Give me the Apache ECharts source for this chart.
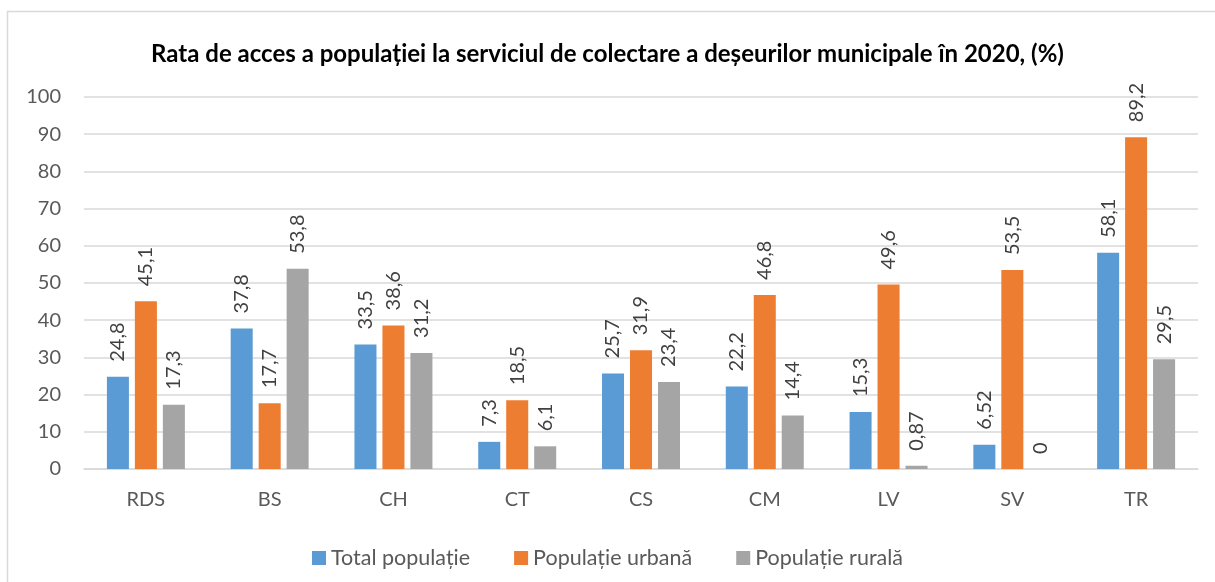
<!DOCTYPE html>
<html>
<head>
<meta charset="utf-8">
<script src="https://cdn.jsdelivr.net/npm/echarts@6/dist/echarts.min.js"></script>
<style>
  html, body { margin: 0; padding: 0; background: #fff; }
  #container { width: 1215px; height: 582px; }
</style>
</head>
<body>
<div id="container"></div>
<script>
var categories = ['RDS', 'BS', 'CH', 'CT', 'CS', 'CM', 'LV', 'SV', 'TR'];
var totalPop = [24.8, 37.8, 33.5, 7.3, 25.7, 22.2, 15.3, 6.52, 58.1];
var urbanPop = [45.1, 17.7, 38.6, 18.5, 31.9, 46.8, 49.6, 53.5, 89.2];
var ruralPop = [17.3, 53.8, 31.2, 6.1, 23.4, 14.4, 0.87, 0, 29.5];
var seriesNames = ['Total populație', 'Populație urbană', 'Populație rurală'];
var colors = ['#5B9BD5', '#ED7D31', '#A5A5A5'];

var dom = document.getElementById('container');
var myChart = echarts.init(dom, null, { renderer: 'canvas' });
var fontFam = 'Lato, "Open Sans", sans-serif';

function makeSeries(name, data, color) {
  return {
    name: name,
    type: 'bar',
    data: data,
    itemStyle: { color: color },
    barGap: '27%',
    barCategoryGap: '37%',
    label: {
      show: true,
      position: 'top',
      rotate: 90,
      align: 'left',
      verticalAlign: 'middle',
      distance: 15,
      fontFamily: fontFam,
      fontSize: 20,
      color: '#404040',
      formatter: function (p) { return String(p.value).replace('.', ','); }
    }
  };
}

var option = {
  animation: false,
  color: colors,
  title: {
    text: 'Rata de acces a populației la serviciul de colectare a deșeurilor municipale în 2020, (%)',
    left: 'center',
    top: 37,
    textStyle: { fontFamily: fontFam, fontWeight: 'bold', fontSize: 24, color: '#000' }
  },
  graphic: [{
    type: 'rect',
    shape: { x: 7.5, y: 11.5, width: 1220, height: 580 },
    style: { fill: 'none', stroke: '#d9d9d9', lineWidth: 1.5 },
    silent: true
  }],
  legend: {
    top: 542,
    left: 'center',
    itemWidth: 14,
    itemHeight: 14,
    itemGap: 44,
    icon: 'rect',
    textStyle: { fontFamily: fontFam, fontSize: 21.5, color: '#595959' },
    data: seriesNames
  },
  grid: { left: 84, right: 17, top: 97, bottom: 113 },
  xAxis: {
    type: 'category',
    data: categories,
    axisLine: { lineStyle: { color: '#d9d9d9', width: 1.5 } },
    axisTick: { show: false },
    axisLabel: { fontFamily: fontFam, fontSize: 20, color: '#595959', margin: 21 }
  },
  yAxis: {
    type: 'value',
    min: 0,
    max: 100,
    interval: 10,
    axisLine: { show: false },
    axisTick: { show: false },
    splitLine: { lineStyle: { color: '#d9d9d9', width: 1.5 } },
    axisLabel: { fontFamily: fontFam, fontSize: 20, color: '#595959', margin: 23 }
  },
  series: [
    makeSeries(seriesNames[0], totalPop, colors[0]),
    makeSeries(seriesNames[1], urbanPop, colors[1]),
    makeSeries(seriesNames[2], ruralPop, colors[2])
  ]
};

if (option && typeof option === 'object') {
  myChart.setOption(option);
}
</script>
</body>
</html>
